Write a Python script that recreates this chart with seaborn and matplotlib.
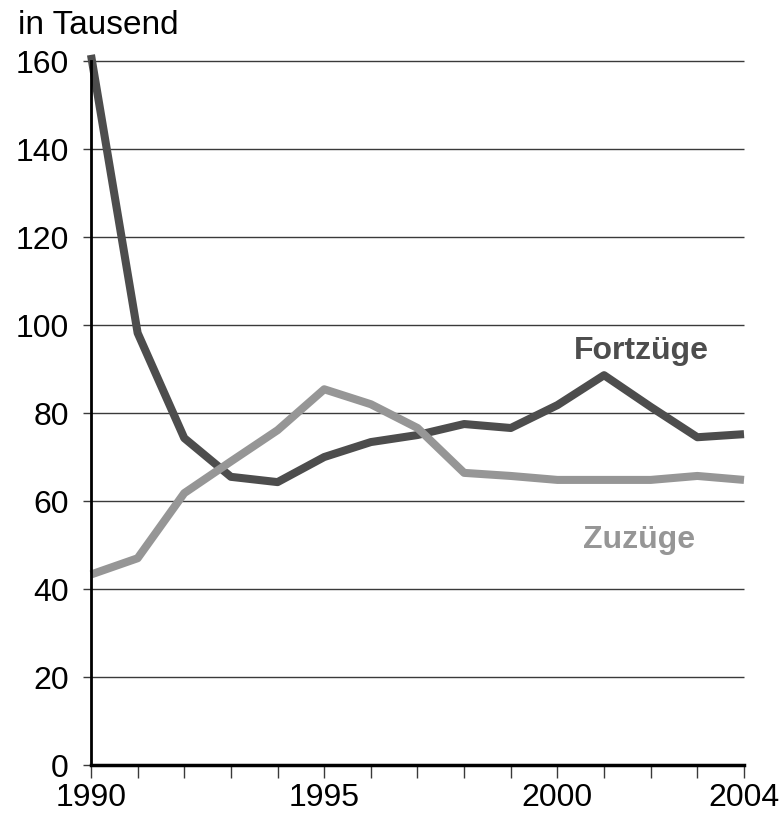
import pandas as pd
import matplotlib
matplotlib.use("Agg")
import matplotlib.pyplot as plt
import seaborn as sns

# Values (in thousands)
years = list(range(1990, 2005))
fortzuege = [161.4, 98.2, 74.3, 65.5, 64.3, 70.0, 73.4, 75.0, 77.5, 76.6, 81.8, 88.6, 81.4, 74.5, 75.2]
zuzuege = [43.3, 47.0, 61.8, 69.0, 76.1, 85.4, 82.0, 76.6, 66.4, 65.7, 64.8, 64.8, 64.8, 65.7, 64.8]
series_names = ["Fortzüge", "Zuzüge"]
y_ticks = [0, 20, 40, 60, 80, 100, 120, 140, 160]
x_labels = [1990, 1995, 2000, 2004]

df = pd.DataFrame({
    "Jahr": years * 2,
    "Wert": fortzuege + zuzuege,
    "Reihe": [series_names[0]] * len(years) + [series_names[1]] * len(years),
})

sns.set_style("white")
plt.rcParams["font.family"] = ["Liberation Sans", "DejaVu Sans"]
plt.rcParams["text.color"] = "black"
plt.rcParams["xtick.labelcolor"] = "black"
plt.rcParams["ytick.labelcolor"] = "black"

colors = {"Fortzüge": "#4d4d4d", "Zuzüge": "#969696"}

fig = plt.figure(figsize=(7.83, 8.17), dpi=100)
ax = fig.add_axes([0.1162, 0.0636, 0.8340, 0.8617])

ax.set_xlim(1990, 2004)
ax.set_ylim(0, 160)

for y in y_ticks[1:]:
    ax.axhline(y, color="#3a3a3a", lw=1.0, zorder=1)

sns.lineplot(data=df, x="Jahr", y="Wert", hue="Reihe", palette=colors,
             linewidth=5.8, legend=False, ax=ax, zorder=3)
for line in ax.lines:
    line.set_clip_on(False)
    line.set_solid_capstyle("butt")

ax.set_yticks(y_ticks)
ax.set_yticklabels([str(v) for v in y_ticks], fontsize=23, color="black")
ax.set_xticks(x_labels)
ax.set_xticklabels([str(v) for v in x_labels], fontsize=23, color="black")
ax.set_xticks(years, minor=True)
ax.tick_params(axis="y", which="major", direction="out", length=6, width=1, color="#3a3a3a", pad=10, left=True)
ax.tick_params(axis="x", which="both", direction="out", length=9, width=1, color="#3a3a3a", pad=4, bottom=True)

ax.set_xlabel("")
ax.set_ylabel("")

for side in ["top", "right"]:
    ax.spines[side].set_visible(False)
ax.spines["left"].set_linewidth(2)
ax.spines["left"].set_color("black")
ax.spines["bottom"].set_linewidth(2.5)
ax.spines["bottom"].set_color("black")
ax.spines["left"].set_zorder(4)

ax.text(2001.8, 94.0, "Fortzüge", color="#4d4d4d", fontsize=23, fontweight="bold",
        ha="center", va="center")
ax.text(2001.75, 51.1, "Zuzüge", color="#969696", fontsize=23, fontweight="bold",
        ha="center", va="center")

fig.text(18 / 783, 1 - 26 / 817, "in Tausend", fontsize=24, color="black", ha="left", va="center")

fig.savefig("out.png", dpi=100)
